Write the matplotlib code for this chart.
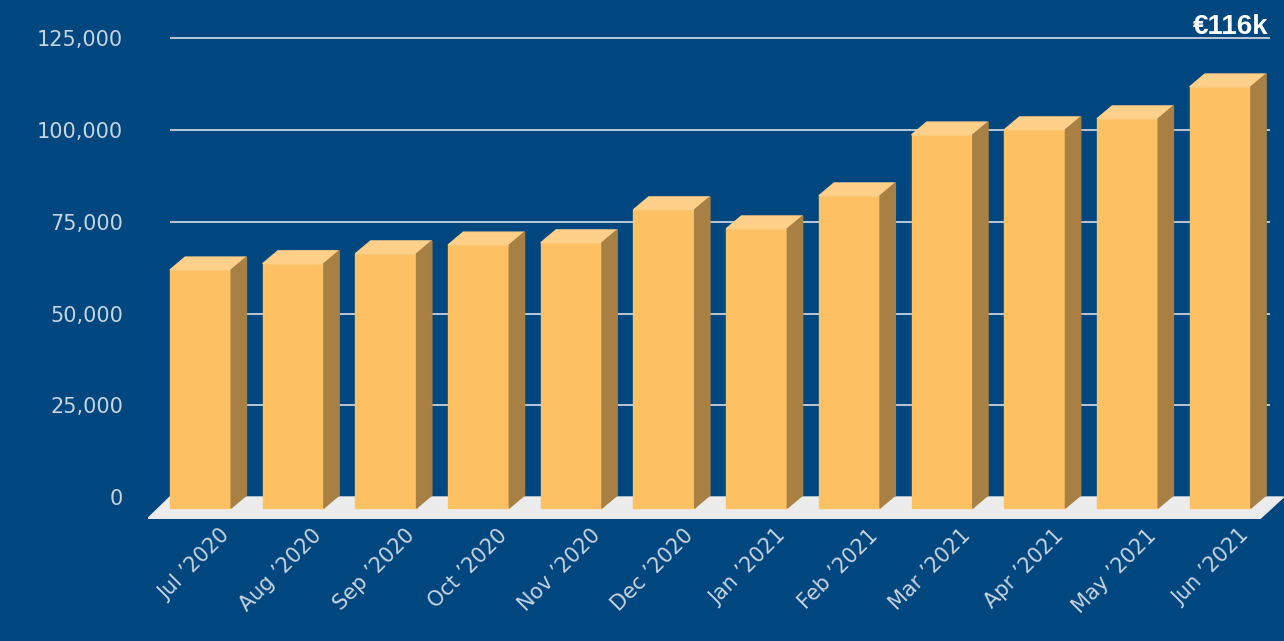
import matplotlib
matplotlib.use("Agg")
import matplotlib.pyplot as plt
from matplotlib.patches import Polygon

months = ["Jul ’2020","Aug ’2020","Sep ’2020","Oct ’2020","Nov ’2020","Dec ’2020",
          "Jan ’2021","Feb ’2021","Mar ’2021","Apr ’2021","May ’2021","Jun ’2021"]
values = [65400, 67100, 69800, 72200, 72800, 81800, 76600, 85600, 102200, 103600, 106600, 115300]
yticks = [0, 25000, 50000, 75000, 100000, 125000]
title = "€116k"

BG = "#00467f"
fig = plt.figure(figsize=(12.84, 6.41), dpi=100, facecolor=BG)
ax = fig.add_axes([148/1284, (641-520)/641, (1284-148)/1284, 490/641])
ax.set_facecolor(BG)
ax.set_xlim(0, (1284-148)/92.7)
ax.set_ylim(-6270, 127300)
for s in ax.spines.values():
    s.set_visible(False)

x0 = 0.237; w = 0.66; dx = 0.165; dy = 3500; base = -3000
ax.hlines(yticks[1:], x0, 12.1, color="#d8dee8", lw=1.2, zorder=1)
ax.add_patch(Polygon([(0, base-2800), (12.0, base-2800), (12.25, 0), (x0, 0)],
                     closed=True, color="#ececec", zorder=2))
for i, v in enumerate(values):
    l = x0 + i; r = l + w; f = v - dy
    ax.add_patch(Polygon([(l, base), (r, base), (r, f), (l, f)], color="#fdc063", zorder=3))
    ax.add_patch(Polygon([(l, f), (r, f), (r+dx, v), (l+dx, v)], color="#fed08a", zorder=3))
    ax.add_patch(Polygon([(r, base), (r+dx, base+dy), (r+dx, v), (r, f)], color="#a88043", zorder=3))

ax.set_yticks(yticks)
ax.set_yticklabels([f"{t:,}" for t in yticks], color="#c8d4e0", fontsize=15)
ax.tick_params(axis="y", length=0, pad=18)
ax.set_xticks([x0 + i + w/2 + 0.2 for i in range(len(months))])
ax.set_xticklabels(months, rotation=45, ha="right", rotation_mode="anchor",
                   color="#c8d4e0", fontsize=15)
ax.tick_params(axis="x", length=0, pad=4)
fig.text(1268/1284, 1-27/641, title, ha="right", va="center", color="white",
         fontsize=20, fontweight="bold", family="Liberation Sans")
fig.savefig("out.png", dpi=100, facecolor=BG)
